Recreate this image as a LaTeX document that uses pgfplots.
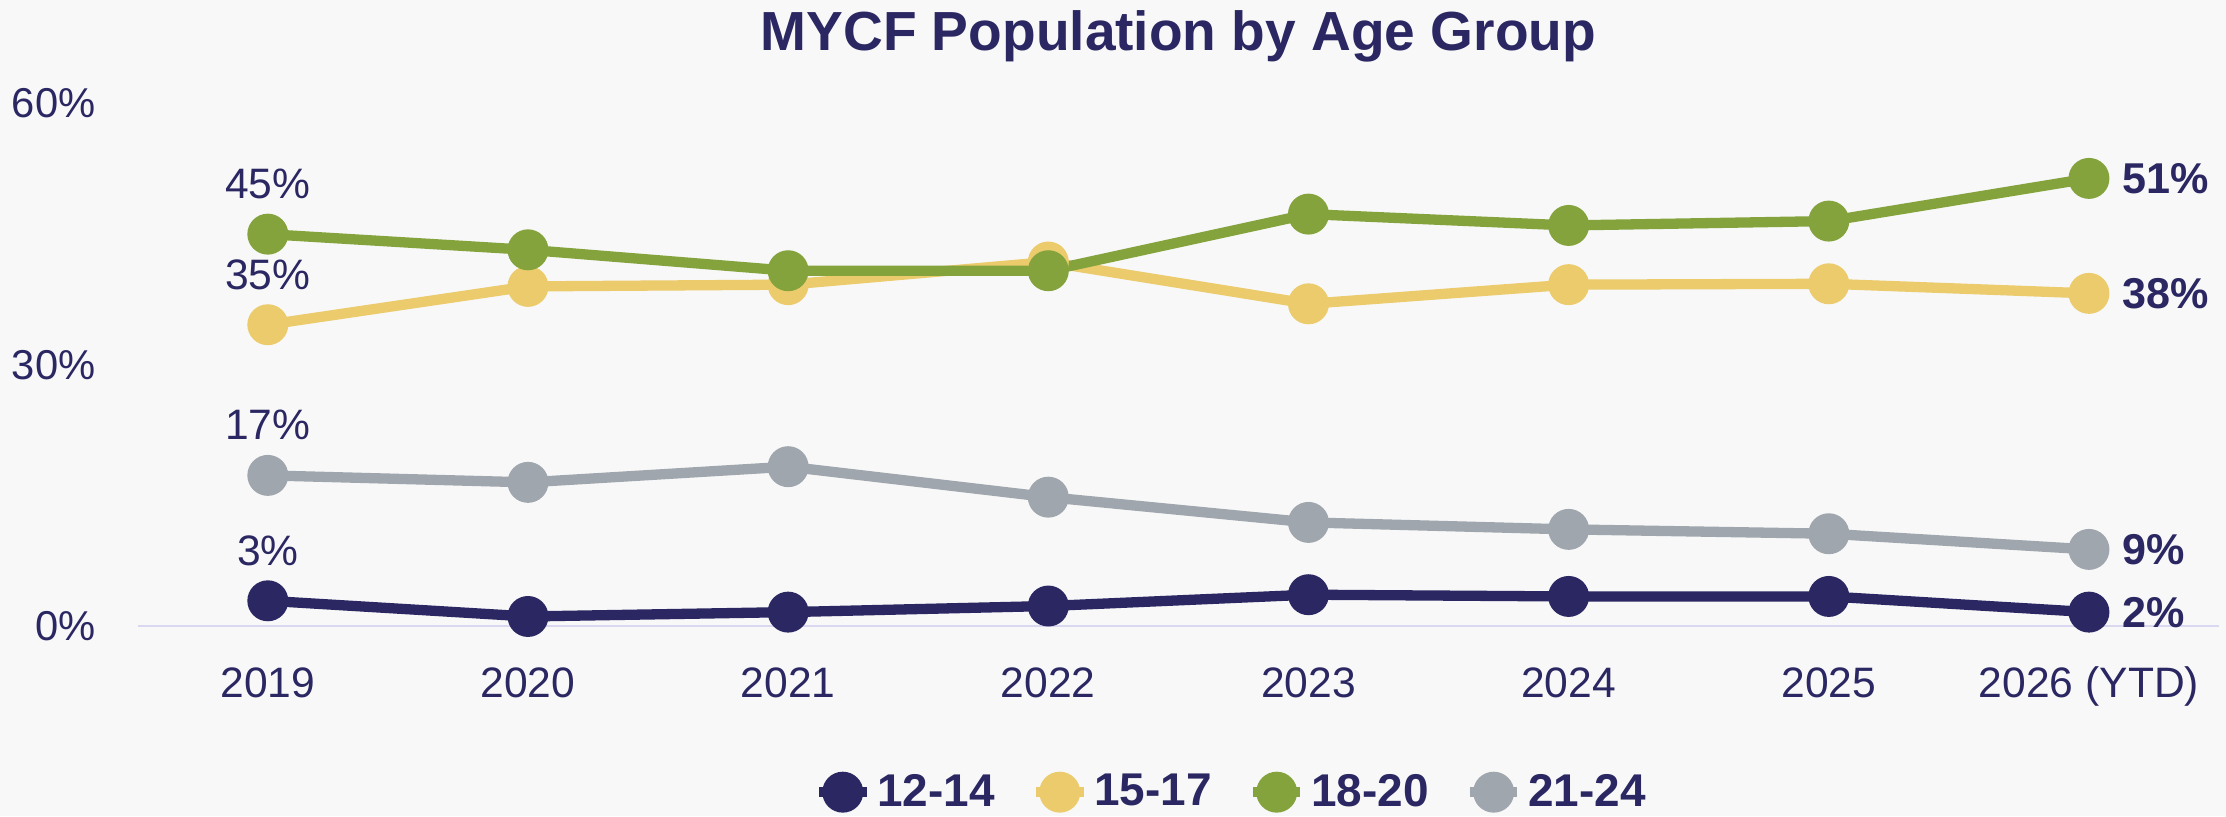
\documentclass[border=0pt]{standalone}
\usepackage{pgfplots}
\pgfplotsset{compat=1.18}
\usepackage{fontspec}
\setmainfont{Liberation Sans}
\definecolor{navy}{HTML}{2A2762}
\definecolor{ylw}{HTML}{EBCB6B}
\definecolor{grn}{HTML}{84A33C}
\definecolor{gry}{HTML}{A0A6AD}
\definecolor{lav}{HTML}{DAD8F0}
\definecolor{bg}{HTML}{F8F8F8}
\begin{document}
\begin{tikzpicture}
\fill[bg] (-49.5pt,-68.4pt) rectangle (750.5pt,225pt);
\begin{axis}[
  at={(0,0)}, anchor=south west,
  scale only axis, width=748pt, height=187.8pt,
  xmin=-0.5, xmax=7.5, ymin=0, ymax=60,
  clip=false,
  xtick={0,1,2,3,4,5,6,7},
  xticklabels={2019,2020,2021,2022,2023,2024,2025,2026 (YTD)},
  ytick={0,30,60}, yticklabels={0\%,30\%,60\%},
  axis x line=bottom, axis y line=left,
  x axis line style={draw=lav, line width=1pt, -},
  y axis line style={draw=none},
  major tick length=0pt, tick style={draw=none},
  xticklabel style={font=\fontsize{15.3}{18}\selectfont, text=navy, anchor=base, inner sep=0pt, yshift=-25.6pt},
  yticklabel style={font=\fontsize{15}{18}\selectfont, text=navy, anchor=east, inner sep=0pt, xshift=-15pt},
  legend style={at={(0.526,0)}, anchor=center, yshift=-59.7pt, draw=none, fill=none,
    legend columns=4, font=\bfseries\fontsize{16.5}{20}\selectfont, text=navy,
    /tikz/every even column/.append style={column sep=11pt}},
  legend cell align=left,
  every axis plot/.append style={line width=3.7pt, mark=*, mark size=5.5pt},
]
\addplot[color=navy, mark options={solid, fill=navy}] coordinates {
(0,2.9) (1,1.1) (2,1.6) (3,2.3) (4,3.6) (5,3.4) (6,3.4) (7,1.6)};
\addlegendentry{12-14}
\addplot[color=ylw, mark options={solid, fill=ylw}] coordinates {
(0,34.6) (1,39.0) (2,39.2) (3,41.8) (4,37.0) (5,39.2) (6,39.3) (7,38.2)};
\addlegendentry{15-17}
\addplot[color=grn, mark options={solid, fill=grn}] coordinates {
(0,45.0) (1,43.2) (2,40.8) (3,40.8) (4,47.3) (5,46.0) (6,46.5) (7,51.4)};
\addlegendentry{18-20}
\addplot[color=gry, mark options={solid, fill=gry}] coordinates {
(0,17.3) (1,16.5) (2,18.3) (3,14.8) (4,11.9) (5,11.1) (6,10.6) (7,8.8)};
\addlegendentry{21-24}
\node[text=navy, font=\bfseries\fontsize{19.8}{24}\selectfont, anchor=base, inner sep=0pt, yshift=18.9pt] at (rel axis cs:0.5,1) {MYCF Population by Age Group};
\begin{scope}[every node/.style={text=navy, font=\fontsize{15.3}{18}\selectfont, anchor=center, yshift=18pt, inner sep=0pt}]
\node at (axis cs:0,45.0) {45\%};
\node at (axis cs:0,34.6) {35\%};
\node at (axis cs:0,17.3) {17\%};
\node at (axis cs:0,2.9) {3\%};
\end{scope}
\begin{scope}[every node/.style={text=navy, font=\bfseries\fontsize{15.5}{18}\selectfont, anchor=west, xshift=11.7pt, inner sep=0pt}]
\node at (axis cs:7,51.4) {51\%};
\node at (axis cs:7,38.2) {38\%};
\node at (axis cs:7,8.8) {9\%};
\node at (axis cs:7,1.6) {2\%};
\end{scope}
\end{axis}
\pgfresetboundingbox
\path[use as bounding box] (-49.5pt,-68.4pt) rectangle (750.5pt,225pt);
\end{tikzpicture}
\end{document}
